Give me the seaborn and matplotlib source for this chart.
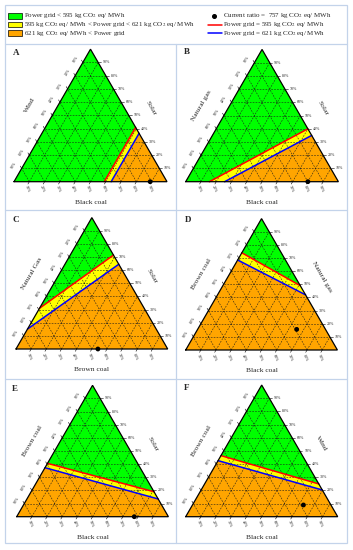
import numpy as np
import matplotlib.pyplot as plt
import seaborn as sns
from matplotlib.patches import Rectangle
from matplotlib.lines import Line2D

sns.set_style('white')
plt.rcParams['font.family'] = ['Liberation Serif', 'DejaVu Serif']
plt.rcParams['mathtext.fontset'] = 'stix'

# data

panel_names = ['A', 'B', 'C', 'D', 'E', 'F']
base_titles = ['Black coal', 'Black coal', 'Brown coal', 'Black coal', 'Black coal', 'Black coal']
left_titles = ['Wind', 'Natural gas', 'Natural Gas', 'Brown coal', 'Brown coal', 'Brown coal']
right_titles = ['Solar', 'Solar', 'Solar', 'Natural gas', 'Solar', 'Wind']

# boundary line ends as (bottom axis share, right axis share)
red_from = [(0.59, 0.0), (0.155, 0.0), (0.0, 0.31), (0.0, 0.74), (0.0, 0.406), (0.0, 0.464)]
red_to = [(0.59, 0.41), (0.60, 0.40), (0.285, 0.715), (0.51, 0.49), (0.81, 0.19), (0.751, 0.249)]
blue_from = [(0.635, 0.0), (0.255, 0.0), (0.0, 0.152), (0.0, 0.685), (0.0, 0.373), (0.0, 0.426)]
blue_to = [(0.635, 0.365), (0.65, 0.35), (0.355, 0.645), (0.58, 0.42), (0.865, 0.135), (0.797, 0.203)]

# current mix (757 kg CO2 eq/ MWh)
current = [(0.89, 0.0), (0.80, 0.0), (0.54, 0.0), (0.653, 0.157), (0.775, 0.0), (0.73, 0.089)]

tick_values = [10, 20, 30, 40, 50, 60, 70, 80, 90]

# layout (pixels): base left corner x, y and base width of each triangle
W, H = 353, 550
panel_px = [(14, 181.7, 153), (185.7, 181.7, 152.7),
            (16, 349, 151.7), (185.7, 350, 151.7),
            (16.7, 516.7, 151.7), (185.7, 516.7, 152)]
letter_px = [(13, 53), (184, 52.5), (12, 220), (185, 220), (12, 389), (184, 388)]

GREEN, YELLOW, ORANGE = '#00ff00', '#ffff00', '#ffa500'
SQ = np.sqrt(3) / 2


def to_xy(a, b):
    return a + b / 2, b * SQ


def clip(poly, p1, p2, keep):
    # keep the part of poly on one side of the line p1-p2
    def side(p):
        return keep * ((p2[0] - p1[0]) * (p[1] - p1[1]) - (p2[1] - p1[1]) * (p[0] - p1[0]))
    out = []
    for i in range(len(poly)):
        cur, nxt = poly[i], poly[(i + 1) % len(poly)]
        sc, sn = side(cur), side(nxt)
        if sc >= 0:
            out.append(cur)
        if sc * sn < 0:
            t = sc / (sc - sn)
            out.append((cur[0] + t * (nxt[0] - cur[0]), cur[1] + t * (nxt[1] - cur[1])))
    return out


fig = plt.figure(figsize=(W / 100, H / 100), dpi=100)

# frame
frame_col = '#c3d3ea'
fig.add_artist(Rectangle((5 / W, 1 - 543 / H), 342 / W, 538 / H, transform=fig.transFigure,
                         fill=False, edgecolor=frame_col, lw=0.9))
for yy in [44, 210, 379]:
    fig.add_artist(Line2D([5 / W, 347 / W], [1 - yy / H] * 2, transform=fig.transFigure, color=frame_col, lw=0.9))
fig.add_artist(Line2D([176 / W] * 2, [1 - 44 / H, 1 - 543 / H], transform=fig.transFigure, color=frame_col, lw=0.9))

# legend
leg_fs = 5.0
leg_rows = [16, 24.5, 33]
leg_text = ['Power grid < 595 kg CO$_2$ eq/ MWh',
            '595 kg CO$_2$ eq/ MWh < Power grid < 621 kg CO$_2$ eq/ MWh',
            '621 kg CO$_2$ eq/ MWh < Power grid']
for yy, col, txt in zip(leg_rows, [GREEN, YELLOW, ORANGE], leg_text):
    fig.add_artist(Rectangle((8 / W, 1 - (yy + 2.8) / H), 14 / W, 5.6 / H, transform=fig.transFigure,
                             facecolor=col, edgecolor='black', lw=0.5))
    fig.text(23.5 / W, 1 - yy / H, txt, fontsize=leg_fs, va='center', ha='left')

fig.add_artist(Line2D([213.5 / W], [1 - 16 / H], transform=fig.transFigure, marker='o', ms=2.6, color='black', lw=0))
fig.text(223 / W, 1 - 16 / H, 'Current ratio =  757 kg CO$_2$ eq/ MWh', fontsize=leg_fs, va='center', ha='left')
for yy, col, txt in zip(leg_rows[1:], ['red', 'blue'],
                        ['Power grid = 595 kg CO$_2$ eq/ MWh', 'Power grid = 621 kg CO$_2$ eq/ MWh']):
    fig.add_artist(Line2D([208 / W, 221.5 / W], [1 - yy / H] * 2, transform=fig.transFigure, color=col, lw=1.1))
    fig.text(223 / W, 1 - yy / H, txt, fontsize=leg_fs, va='center', ha='left')

tri = [(0.0, 0.0), (1.0, 0.0), (0.5, SQ)]

for i in range(6):
    x0, y0, w = panel_px[i]
    ax = fig.add_axes([(x0 - 0.12 * w) / W, 1 - (y0 + 0.18 * w) / H, 1.24 * w / W, 1.18 * w / H])
    ax.set_xlim(-0.12, 1.12)
    ax.set_ylim(-0.18, 1.0)
    ax.axis('off')

    dot = to_xy(*current[i])
    r1, r2 = to_xy(*red_from[i]), to_xy(*red_to[i])
    b1, b2 = to_xy(*blue_from[i]), to_xy(*blue_to[i])

    def keep_sign(p1, p2):
        s = (p2[0] - p1[0]) * (dot[1] - p1[1]) - (p2[1] - p1[1]) * (dot[0] - p1[0])
        return -np.sign(s)

    ax.fill(*zip(*tri), color=ORANGE, lw=0, zorder=1)
    ax.fill(*zip(*clip(tri, b1, b2, keep_sign(b1, b2))), color=YELLOW, lw=0, zorder=2)
    ax.fill(*zip(*clip(tri, r1, r2, keep_sign(r1, r2))), color=GREEN, lw=0, zorder=3)

    # grid
    for v in tick_values:
        f = v / 100
        for p, q in [((f, 0), (f, 1 - f)), ((0, f), (1 - f, f)), ((f, 0), (0, f))]:
            (xa, ya), (xb, yb) = to_xy(*p), to_xy(*q)
            ax.plot([xa, xb], [ya, yb], color='#1a1a1a', lw=0.4, ls=(0, (3, 2.2)), zorder=4)

    sns.lineplot(x=[r1[0], r2[0]], y=[r1[1], r2[1]], color='#ff0000', lw=1.1, sort=False, ax=ax, zorder=5)
    sns.lineplot(x=[b1[0], b2[0]], y=[b1[1], b2[1]], color='#0000ff', lw=1.1, sort=False, ax=ax, zorder=5)

    ax.plot([0, 1, 0.5, 0], [0, 0, SQ, 0], color='black', lw=0.9, zorder=6, solid_joinstyle='miter')
    sns.scatterplot(x=[dot[0]], y=[dot[1]], color='black', s=12, edgecolor='none', ax=ax, zorder=7)

    # ticks and tick labels
    tl = 0.018
    for v in tick_values:
        f = v / 100
        # bottom
        ax.plot([f, f - tl * 0.5], [0, -tl * SQ], color='black', lw=0.4, zorder=6)
        ax.text(f - 0.012, -0.05, f'{v}%', fontsize=2.9, rotation=-65, ha='center', va='center')
        # right
        rx, ry = to_xy(1 - f, f)
        ax.plot([rx, rx + tl], [ry, ry], color='black', lw=0.4, zorder=6)
        ax.text(rx + 0.03, ry, f'{v}%', fontsize=2.9, ha='left', va='center')
        # left
        lx, ly = to_xy(0, f)
        ax.plot([lx, lx - tl * 0.5], [ly, ly + tl * SQ], color='black', lw=0.4, zorder=6)
        ax.text(lx - 0.05, ly + 0.02, f'{100 - v}%', fontsize=2.9, rotation=60, ha='center', va='center')

    ax.text(0.5, -0.135, base_titles[i], fontsize=5.4, ha='center', va='center')
    ax.text(0.105, 0.5, left_titles[i], fontsize=5.4, rotation=60, ha='center', va='center')
    ax.text(0.895, 0.48, right_titles[i], fontsize=5.4, rotation=-60, ha='center', va='center')

    lx, ly = letter_px[i]
    fig.text(lx / W, 1 - ly / H, panel_names[i], fontsize=6.5, fontweight='bold', ha='left', va='center')

fig.savefig('out.png', dpi=100)
